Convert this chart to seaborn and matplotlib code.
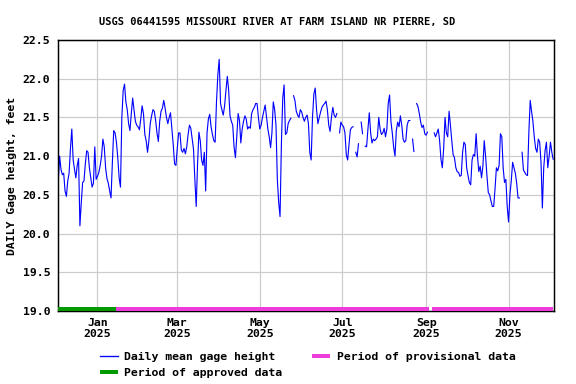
import numpy as np
import pandas as pd
import matplotlib
matplotlib.use("Agg")
import matplotlib.pyplot as plt
from matplotlib.lines import Line2D
import seaborn as sns

nan = np.nan
# Daily mean gage height (feet), 2024-12-03 .. 2025-12-04
dec2024 = [20.68, 21.00, 20.83, 20.76, 20.78, 20.55, 20.48, 20.68, 20.78, 21.10, 21.35, 20.95, 20.83, 20.72,
           20.88, 20.97, 20.10, 20.40, 20.66, 20.68, 20.90, 21.07, 21.05, 20.85, 20.72, 20.60, 20.65, 21.12, 20.70]
jan = [20.74, 20.79, 20.88, 21.00, 21.22, 21.12, 20.85, 20.71, 20.65, 20.55, 20.46, 20.92, 21.33, 21.30, 21.18,
       20.98, 20.72, 20.60, 21.50, 21.85, 21.93, 21.70, 21.60, 21.42, 21.33, 21.55, 21.75, 21.60, 21.45, 21.40, 21.38]
feb = [21.34, 21.48, 21.65, 21.55, 21.28, 21.20, 21.05, 21.20, 21.42, 21.52, 21.60, 21.58, 21.46, 21.30, 21.19,
       21.45, 21.58, 21.62, 21.72, 21.62, 21.50, 21.42, 21.50, 21.56, 21.35, 21.15, 20.90, 20.88]
mar = [21.10, 21.30, 21.30, 21.08, 21.05, 21.10, 21.03, 21.12, 21.28, 21.40, 21.36, 21.22, 21.09, 20.70, 20.35,
       20.90, 21.31, 21.20, 20.95, 20.88, 21.05, 20.55, 21.30, 21.48, 21.54, 21.38, 21.28, 21.20, 21.18, 21.70, 22.05]
apr = [22.25, 21.68, 21.60, 21.53, 21.65, 21.85, 22.03, 21.85, 21.52, 21.45, 21.40, 21.12, 20.98, 21.25, 21.55,
       21.46, 21.17, 21.35, 21.45, 21.52, 21.48, 21.35, 21.38, 21.36, 21.55, 21.60, 21.63, 21.68, 21.68, 21.50]
may = [21.35, 21.40, 21.50, 21.58, 21.66, 21.50, 21.35, 21.25, 21.11, 21.30, 21.70, 21.60, 21.40, 20.70, 20.40,
       20.22, 21.16, 21.75, 21.92, 21.28, 21.30, 21.42, 21.46, 21.49, nan, 21.78, 21.72, 21.58, 21.53, 21.50, 21.60]
jun = [21.57, 21.50, 21.45, 21.50, 21.53, 21.42, 21.05, 20.95, 21.50, 21.80, 21.88, 21.60, 21.42, 21.50, 21.57,
       21.63, 21.66, 21.68, 21.71, 21.60, 21.40, 21.32, 21.50, 21.63, 21.53, 21.50, 21.55, nan, 21.30, 21.44]
jul = [21.40, 21.38, 21.30, 21.02, 20.95, 21.15, 21.34, 21.37, 21.38, nan, 21.05, 20.99, 21.16, nan, 21.44,
       21.29, nan, 21.13, 21.12, 21.35, 21.56, 21.30, 21.17, 21.22, 21.20, 21.22, 21.25, 21.50, 21.35, 21.28, 21.30]
aug = [21.36, 21.25, 21.35, 21.68, 21.79, 21.45, 21.30, 21.12, 21.00, 21.33, 21.44, 21.38, 21.52, 21.40, 21.22,
       21.18, 21.20, 21.40, 21.46, 21.46, nan, 21.22, 21.06, nan, 21.68, 21.64, 21.55, 21.44, 21.37, 21.40, 21.29]
sep = [21.27, 21.31, nan, nan, nan, nan, 21.30, 21.25, 21.30, 21.35, 21.20, 20.96, 20.85, 21.10, 21.50,
       21.30, 21.25, 21.58, 21.40, 21.20, 21.02, 20.98, 20.85, 20.80, 20.79, 20.74, 20.75, 21.05, 21.18, 21.15]
oct_ = [20.85, 20.75, 20.66, 20.63, 20.95, 21.02, 21.00, 21.29, 21.00, 20.80, 20.87, 20.72, 20.87, 21.20, 21.00,
        20.75, 20.53, 20.50, 20.42, 20.35, 20.35, 20.58, 20.85, 20.81, 20.88, 21.29, 21.25, 20.85, 20.66, 20.70, 20.35]
nov = [20.15, 20.50, 20.68, 20.92, 20.85, 20.78, 20.65, 20.46, 20.46, nan, 21.05, 20.82, 20.79, 20.76, 20.75,
       21.30, 21.72, 21.58, 21.45, 21.25, 21.10, 21.05, 21.22, 21.18, 20.92, 20.33, 20.85, 21.07, 21.18, 20.85]
dec2025 = [21.00, 21.18, 21.05, 20.96]

start_date = "2024-12-03"
approved_period = ["2024-12-03T00:00", "2025-01-14T12:00"]
provisional_periods = [["2025-01-14T12:00", "2025-09-03T12:00"], ["2025-09-05T06:00", "2025-12-04T00:00"]]
month_ticks = ["2025-01-01", "2025-03-01", "2025-05-01", "2025-07-01", "2025-09-01", "2025-11-01"]
month_labels = ["Jan\n2025", "Mar\n2025", "May\n2025", "Jul\n2025", "Sep\n2025", "Nov\n2025"]
y_ticks = [19.0, 19.5, 20.0, 20.5, 21.0, 21.5, 22.0, 22.5]

values = dec2024 + jan + feb + mar + apr + may + jun + jul + aug + sep + oct_ + nov + dec2025
dates = pd.date_range(start_date, periods=len(values), freq="D")
df = pd.DataFrame({"date": dates, "value": values})
df["seg"] = df["value"].isna().cumsum()
df = df.dropna()

plt.rcParams["font.family"] = ["DejaVu Sans Mono"]
plt.rcParams["font.weight"] = "bold"

fig = plt.figure(figsize=(6.0, 4.0), dpi=96)
ax = fig.add_axes([58 / 576, 1 - 311 / 384, 496 / 576, 271 / 384])

sns.lineplot(data=df, x="date", y="value", units="seg", estimator=None,
             color="#0000ff", linewidth=0.85, ax=ax, legend=False)

green = "#009900"
pink = "#ee3cdc"
ax.plot(pd.to_datetime(approved_period, format="ISO8601"), [19.02, 19.02], color=green, lw=3,
        solid_capstyle="butt", clip_on=False, zorder=5)
for p in provisional_periods:
    ax.plot(pd.to_datetime(p, format="ISO8601"), [19.02, 19.02], color=pink, lw=3,
            solid_capstyle="butt", clip_on=False, zorder=5)

t0 = pd.Timestamp(start_date)
ax.set_xlim(t0 - pd.Timedelta(hours=5), t0 + pd.Timedelta(days=366.6))
ax.set_ylim(19.0, 22.5)
ax.set_yticks(y_ticks)
ax.set_yticklabels([f"{v:.1f}" for v in y_ticks])
ax.set_xticks(pd.to_datetime(month_ticks))
ax.set_xticklabels(month_labels)
ax.tick_params(axis="both", length=0, labelsize=8.6)
ax.tick_params(axis="y", pad=6)
ax.tick_params(axis="x", pad=5)
ax.grid(True, color="#cccccc", linewidth=0.9)
ax.set_axisbelow(True)
for s in ax.spines.values():
    s.set_color("black")
    s.set_linewidth(1.1)
ax.set_xlabel("")
ax.set_ylabel("DAILY Gage height, feet", fontsize=8.6, fontweight="bold")
ax.yaxis.set_label_coords(-0.083, 0.5)

fig.text(277.5 / 576, 1 - 24.5 / 384, "USGS 06441595 MISSOURI RIVER AT FARM ISLAND NR PIERRE, SD",
         ha="center", va="baseline", fontsize=7.8, fontweight="bold")

handles = [Line2D([], [], color="#0000ff", lw=1.0),
           Line2D([], [], color=green, lw=3, solid_capstyle="butt"),
           Line2D([], [], color=pink, lw=3, solid_capstyle="butt")]
labels = ["Daily mean gage height", "Period of approved data", "Period of provisional data"]
fig.legend(handles, labels, loc="upper left", bbox_to_anchor=(100 / 576, 1 - 352 / 384),
           ncol=2, frameon=False, borderpad=0, borderaxespad=0, handlelength=1.56,
           handletextpad=0.56, columnspacing=2.6, labelspacing=0.5,
           prop={"size": 8.6, "weight": "bold"})

fig.savefig("out.png", dpi=96)
